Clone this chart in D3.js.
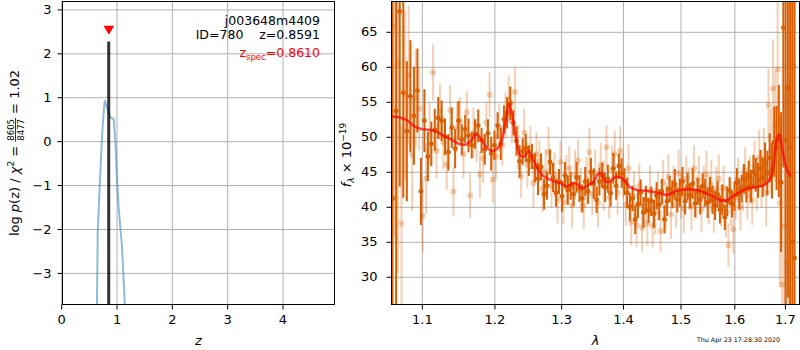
<!DOCTYPE html>
<html><head><meta charset="utf-8">
<script src="https://cdn.jsdelivr.net/npm/d3@7"></script>
<style>
body{margin:0;background:#fff}
svg{display:block;font-family:"DejaVu Sans",sans-serif}
</style>
</head><body><svg id="c" width="800" height="350"></svg>
<script>
// ---------- Left panel data: redshift PDF ----------
const zTicks = [0, 1, 2, 3, 4];
const logpTicks = [-3, -2, -1, 0, 1, 2, 3];
const zGrid = [0.60, 0.64, 0.66, 0.70, 0.74, 0.78, 0.79, 0.83, 0.89, 0.95, 0.98, 1.01, 1.04, 1.10, 1.15, 1.20];
const logpValues = [-8, -4.5, -2.1, -0.9, 0.16, 0.84, 0.93, 0.75, 0.54, 0.50, 0.0, -0.9, -1.55, -2.42, -3.72, -6];
const zBest = 0.8591, zBestPeak = 2.27;
const zSpec = 0.8610, zSpecMarker = 2.56;
const labelLines = ["j003648m4409", "ID=780    z=0.8591"];
const zSpecLabel = "=0.8610";

// ---------- Right panel data: spectrum ----------
const lamTicks = [1.1, 1.2, 1.3, 1.4, 1.5, 1.6, 1.7];
const fluxTicks = [30, 35, 40, 45, 50, 55, 60, 65];

const darkWave = [
1.0620,1.0666,1.0712,1.0758,1.0804,1.0850,1.0896,1.0942,1.0988,1.1034,
1.1080,1.1126,1.1172,1.1218,1.1264,1.1310,1.1356,1.1402,1.1448,1.1494,
1.1540,1.1586,1.1632,1.1678,1.1724,1.1770,1.1816,1.1862,1.1908,1.1954,
1.2000,1.2046,1.2092,1.2138,1.2184,1.2230,1.2276,1.2322,1.2368,1.2414,
1.2460,1.2506,1.2552,1.2598,1.2644,1.2690,1.2736,1.2782,1.2828,1.2874,
1.2920,1.2966,1.3012,1.3058,1.3104,1.3150,1.3196,1.3242,1.3288,1.3334,
1.3380,1.3426,1.3472,1.3518,1.3564,1.3610,1.3656,1.3702,1.3748,1.3794,
1.3840,1.3886,1.3932,1.3978,1.4024,1.4070,1.4116,1.4162,1.4208,1.4254,
1.4300,1.4346,1.4392,1.4438,1.4484,1.4530,1.4576,1.4622,1.4668,1.4714,
1.4760,1.4806,1.4852,1.4898,1.4944,1.4990,1.5036,1.5082,1.5128,1.5174,
1.5220,1.5266,1.5312,1.5358,1.5404,1.5450,1.5496,1.5542,1.5588,1.5634,
1.5680,1.5726,1.5772,1.5818,1.5864,1.5910,1.5956,1.6002,1.6048,1.6094,
1.6140,1.6186,1.6232,1.6278,1.6324,1.6370,1.6416,1.6462,1.6508,1.6554,
1.6600,1.6646,1.6692,1.6738,1.6784,1.6830,1.6876,1.6922,1.6968,1.7014,
1.7060,1.7106,1.7152,1.7198];
const darkFlux = [
41.2,53.7,67.9,56.3,50.8,55.8,53.0,56.6,42.2,52.3,
47.2,49.0,51.0,52.7,52.3,50.0,47.8,51.3,48.3,52.3,
49.6,51.1,50.2,48.8,50.4,51.6,49.5,48.2,50.5,47.6,
48.8,51.6,49.0,52.5,53.4,54.8,52.0,49.4,46.5,47.9,
48.4,46.6,47.2,45.6,44.0,45.7,41.8,43.0,46.4,44.2,
42.0,43.6,41.5,44.5,42.4,43.0,41.8,44.2,42.6,41.2,
43.6,42.2,45.0,43.3,41.0,43.6,44.5,42.8,44.0,41.9,
45.5,43.0,45.8,44.8,43.6,42.0,40.0,41.2,38.2,40.4,
42.0,39.2,41.0,39.5,40.8,39.0,41.6,40.3,42.2,38.2,
40.8,42.5,41.8,43.2,41.0,42.0,43.6,40.8,42.9,41.6,
43.3,40.5,42.2,41.0,43.0,42.0,40.6,42.4,41.0,40.2,
41.8,39.6,41.0,38.5,40.8,42.3,40.4,41.5,43.5,41.8,
42.6,44.0,42.8,44.4,43.0,45.0,44.6,43.8,45.5,44.2,
46.2,44.8,47.0,45.2,49.3,48.4,49.4,43.5,65.6,49.5,
57.0,48.5,35.0,32.7];
const darkErr = [
40,30,25,15,10,8,7,6,4.8,4.5,
3.5,3.2,3.0,3.0,2.9,2.6,2.6,2.9,2.8,2.8,
2.2,2.0,2.4,1.9,2.1,2.3,1.8,2.2,2.0,2.4,
2.1,1.9,2.3,2.0,2.2,2.4,1.8,2.1,2.3,1.9,
2.0,2.2,1.8,2.1,2.3,1.9,2.2,2.0,1.8,2.1,
2.0,1.8,2.2,1.9,2.1,2.0,1.7,2.2,1.9,2.0,
2.1,1.8,2.0,2.2,1.9,2.0,1.8,2.1,2.0,1.9,
2.2,2.0,1.8,2.1,1.9,2.2,2.0,1.8,2.1,2.0,
1.9,2.2,2.0,1.8,2.1,2.0,1.9,2.2,1.8,2.0,
2.1,1.9,2.0,2.2,1.8,2.0,2.1,1.9,2.0,1.8,
2.2,2.0,1.9,2.1,1.8,2.0,2.2,1.9,2.0,2.1,
1.9,2.0,2.2,1.8,2.1,2.0,1.9,2.1,2.0,2.2,
2.0,2.1,2.2,2.2,2.3,2.4,2.4,2.5,2.6,2.8,
3.0,3.2,3.5,4.0,5.0,6.0,8.0,10,20,25,
30,35,40,45];

const lightWave = [
1.0643,1.0689,1.0735,1.0781,1.0827,1.0873,1.0919,1.0965,1.1011,1.1057,
1.1103,1.1149,1.1195,1.1241,1.1287,1.1333,1.1379,1.1425,1.1471,1.1517,
1.1563,1.1609,1.1655,1.1701,1.1747,1.1793,1.1839,1.1885,1.1931,1.1977,
1.2023,1.2069,1.2115,1.2161,1.2207,1.2253,1.2299,1.2345,1.2391,1.2437,
1.2483,1.2529,1.2575,1.2621,1.2667,1.2713,1.2759,1.2805,1.2851,1.2897,
1.2943,1.2989,1.3035,1.3081,1.3127,1.3173,1.3219,1.3265,1.3311,1.3357,
1.3403,1.3449,1.3495,1.3541,1.3587,1.3633,1.3679,1.3725,1.3771,1.3817,
1.3863,1.3909,1.3955,1.4001,1.4047,1.4093,1.4139,1.4185,1.4231,1.4277,
1.4323,1.4369,1.4415,1.4461,1.4507,1.4553,1.4599,1.4645,1.4691,1.4737,
1.4783,1.4829,1.4875,1.4921,1.4967,1.5013,1.5059,1.5105,1.5151,1.5197,
1.5243,1.5289,1.5335,1.5381,1.5427,1.5473,1.5519,1.5565,1.5611,1.5657,
1.5703,1.5749,1.5795,1.5841,1.5887,1.5933,1.5979,1.6025,1.6071,1.6117,
1.6163,1.6209,1.6255,1.6301,1.6347,1.6393,1.6439,1.6485,1.6531,1.6577,
1.6623,1.6669,1.6715,1.6761,1.6807,1.6853,1.6899,1.6945,1.6991,1.7037,
1.7083,1.7129,1.7175];
const lightFlux = [
65.8,60.5,37.6,56.0,58.8,47.4,55.5,54.0,38.7,44.0,
50.5,59.2,48.0,53.6,49.2,46.0,53.8,42.2,51.3,52.2,
47.5,53.5,41.6,50.6,49.5,44.6,46.9,52.0,56.0,43.9,
47.2,51.3,48.8,53.0,55.4,52.2,56.4,48.5,44.3,50.6,
46.0,48.4,43.4,47.5,46.5,42.6,45.0,47.8,43.0,44.6,
41.0,46.4,40.7,43.8,45.5,40.2,44.6,46.6,42.4,40.2,
43.9,47.8,41.8,44.8,40.5,46.0,43.0,48.5,41.3,45.3,
47.5,42.0,48.0,44.5,40.3,45.5,37.8,41.5,37.4,43.0,
37.0,40.0,37.6,42.3,37.3,39.3,41.5,36.5,43.5,40.0,
44.3,38.9,42.8,40.3,44.8,41.5,39.8,44.0,42.6,40.0,
45.5,41.4,43.8,39.6,42.9,44.6,40.8,43.1,39.4,42.5,
44.0,40.2,42.7,39.3,34.5,40.5,36.8,41.3,43.8,40.0,
42.6,45.2,41.6,43.8,40.9,45.8,43.2,47.0,44.0,46.8,
42.0,54.5,48.0,56.9,51.5,59.6,40.5,28.9,37.2,32.0,
28.0,67.0,60.0];
const lightErr = [
30,30,14,12,10,8,7,6,5,5,
4.5,4.0,4.0,4.0,3.8,3.6,3.6,3.5,3.5,3.5,
3.4,3.0,3.2,3.6,3.1,3.3,3.5,3.0,3.2,3.4,
3.2,3.5,3.0,3.3,3.4,3.1,3.6,3.2,3.0,3.4,
3.3,3.1,3.5,3.2,3.0,3.4,3.3,3.6,3.1,3.2,
3.4,3.0,3.2,3.6,3.1,3.3,3.5,3.0,3.2,3.4,
3.2,3.5,3.0,3.3,3.4,3.1,3.6,3.2,3.0,3.4,
3.3,3.1,3.5,3.2,3.0,3.4,3.3,3.6,3.1,3.2,
3.4,3.0,3.2,3.6,3.1,3.3,3.5,3.0,3.2,3.4,
3.2,3.5,3.0,3.3,3.4,3.1,3.6,3.2,3.0,3.4,
3.3,3.1,3.5,3.2,3.0,3.4,3.3,3.6,3.1,3.2,
3.4,3.0,3.2,3.6,3.1,3.3,3.5,3.0,3.2,3.4,
3.2,3.3,3.4,3.4,3.5,3.6,3.8,4.0,4.2,4.5,
4.8,5.2,6,7,8,10,12,15,20,25,
30,35,40];

const modelWave = [1.060,1.070,1.080,1.090,1.100,1.110,1.120,1.130,1.140,1.150,1.160,1.168,1.174,1.180,1.188,1.196,1.204,1.210,1.216,1.221,1.226,1.232,1.238,1.244,1.250,1.256,1.262,1.270,1.280,1.290,1.300,1.310,1.318,1.326,1.334,1.344,1.352,1.358,1.364,1.370,1.378,1.386,1.396,1.404,1.412,1.425,1.440,1.460,1.475,1.490,1.510,1.530,1.545,1.560,1.575,1.585,1.595,1.610,1.625,1.640,1.655,1.665,1.672,1.678,1.684,1.689,1.694,1.700,1.706,1.712];
const modelFlux = [52.9,52.8,52.4,51.5,51.1,51.0,50.7,50.1,49.6,49.0,48.9,49.6,50.4,49.8,48.6,48.0,48.3,49.3,52.0,54.7,53.0,49.5,47.3,47.2,48.0,46.9,45.8,44.6,44.0,43.6,43.3,42.9,43.4,43.2,42.6,43.2,43.6,44.6,44.8,43.6,43.6,44.2,44.2,43.6,42.8,42.4,42.3,42.0,41.7,42.2,42.5,42.4,42.0,41.5,40.9,40.9,41.4,42.1,42.6,42.8,43.0,43.5,44.3,46.5,49.8,50.3,48.5,46.3,45.0,44.3];
const timestamp = "Thu Apr 23 17:28:30 2020";

// ---------- drawing ----------
const svg = d3.select("#c");
const FS = 13;
const gridCol = "#b0b0b0";
const darkCol = "#d95f02";

function panel(id, xs, ys, xTicks, yTicks, xFmt, yFmt, yPad) {
  const [x0, x1] = xs.range(), [y1, y0] = ys.range();
  const g = svg.append("g");
  g.append("clipPath").attr("id", id).append("rect")
    .attr("x", x0).attr("y", y0).attr("width", x1 - x0).attr("height", y1 - y0);
  g.append("g").attr("transform", `translate(0,${y1})`)
    .call(d3.axisBottom(xs).tickValues(xTicks).tickSize(-(y1 - y0)).tickFormat(""))
    .call(a => { a.select(".domain").remove(); a.selectAll("line").attr("stroke", gridCol).attr("stroke-width", 1); });
  g.append("g").attr("transform", `translate(${x0},0)`)
    .call(d3.axisLeft(ys).tickValues(yTicks).tickSize(-(x1 - x0)).tickFormat(""))
    .call(a => { a.select(".domain").remove(); a.selectAll("line").attr("stroke", gridCol).attr("stroke-width", 1); });
  const plot = g.append("g").attr("clip-path", `url(#${id})`);
  g.append("g").attr("transform", `translate(0,${y1})`)
    .call(d3.axisBottom(xs).tickValues(xTicks).tickFormat(xFmt).tickSize(5).tickPadding(5))
    .call(a => { a.select(".domain").remove(); a.selectAll("text").attr("font-size", FS).attr("font-family", "DejaVu Sans").attr("fill", "#000"); a.selectAll("line").attr("stroke", "#000"); });
  g.append("g").attr("transform", `translate(${x0},0)`)
    .call(d3.axisLeft(ys).tickValues(yTicks).tickFormat(yFmt).tickSize(5).tickPadding(yPad))
    .call(a => { a.select(".domain").remove(); a.selectAll("text").attr("font-size", FS).attr("font-family", "DejaVu Sans").attr("fill", "#000"); a.selectAll("line").attr("stroke", "#000"); });
  g.append("rect").attr("x", x0).attr("y", y0).attr("width", x1 - x0).attr("height", y1 - y0)
    .attr("fill", "none").attr("stroke", "#000").attr("stroke-width", 1);
  return {g, plot};
}

// Left panel
const xL = d3.scaleLinear().domain([0.0235, 4.94]).range([62.5, 334.5]);
const yL = d3.scaleLinear().domain([-3.72, 3.18]).range([304.5, 1.5]);
const P1 = panel("clipL", xL, yL, zTicks, logpTicks, d3.format("d"), d3.format("d"), 6);

P1.plot.append("path")
  .datum(d3.zip(zGrid, logpValues))
  .attr("d", d3.line().x(d => xL(d[0])).y(d => yL(d[1])))
  .attr("fill", "none").attr("stroke", "#1f77b4").attr("stroke-opacity", 0.5).attr("stroke-width", 2);
P1.plot.append("line")
  .attr("x1", xL(zBest)).attr("x2", xL(zBest))
  .attr("y1", yL(-3.72)).attr("y2", yL(zBestPeak))
  .attr("stroke", "#000").attr("stroke-opacity", 0.8).attr("stroke-width", 3);
P1.plot.append("path")
  .attr("d", d3.symbol(d3.symbolTriangle, 48)())
  .attr("transform", `translate(${xL(zSpec)},${yL(zSpecMarker)}) rotate(180)`)
  .attr("fill", "red");

const ann = svg.append("g").attr("font-size", 12.5).attr("text-anchor", "end");
ann.append("text").attr("x", 320).attr("y", 25).text(labelLines[0]);
ann.append("text").attr("x", 320).attr("y", 39).style("white-space", "pre").text(labelLines[1]);
const zs = ann.append("text").attr("x", 320).attr("y", 57).attr("fill", "red");
zs.append("tspan").text("z");
zs.append("tspan").attr("font-size", 8.5).attr("dy", 3).text("spec");
zs.append("tspan").attr("dy", -3).text(zSpecLabel);

svg.append("text").attr("x", (62.5 + 334.5) / 2).attr("y", 345).attr("text-anchor", "middle")
  .attr("font-size", FS).attr("font-style", "italic").text("z");

// y label left (with fraction)
const yl = svg.append("g").attr("transform", "translate(19,153) rotate(-90)").attr("font-size", FS);
const inner = yl.append("g");
const t1 = inner.append("text").attr("x", 0).attr("y", 0).style("white-space", "pre");
t1.append("tspan").text("log ");
t1.append("tspan").attr("font-style", "italic").text("p");
t1.append("tspan").text("(z) / ");
t1.append("tspan").attr("font-style", "italic").text("χ");
t1.append("tspan").attr("font-size", 9).attr("dy", -5).text("2");
t1.append("tspan").attr("dy", 5).text(" = ");
const w1 = t1.node().getComputedTextLength();
const num = inner.append("text").attr("font-size", 8.5).attr("y", -5).attr("text-anchor", "middle").text("8605");
const den = inner.append("text").attr("font-size", 8.5).attr("y", 5).attr("text-anchor", "middle").text("8477");
const fw = Math.max(num.node().getComputedTextLength(), den.node().getComputedTextLength()) + 2;
num.attr("x", w1 + fw / 2); den.attr("x", w1 + fw / 2);
inner.append("line").attr("x1", w1).attr("x2", w1 + fw).attr("y1", -3.5).attr("y2", -3.5).attr("stroke", "#000").attr("stroke-width", 0.8);
const t2 = inner.append("text").attr("x", w1 + fw).attr("y", 0).style("white-space", "pre").text(" = 1.02");
const total = w1 + fw + t2.node().getComputedTextLength();
inner.attr("transform", `translate(${-total / 2},0)`);

// Right panel
const xR = d3.scaleLog().domain([1.0607, 1.730]).range([391.5, 799.5]);
const yR = d3.scaleLinear().domain([26.04, 69.33]).range([304.5, 1.5]);
const P2 = panel("clipR", xR, yR, lamTicks, fluxTicks, d3.format(".1f"), d3.format("d"), 9);

function errSeries(wave, flux, err, color, opacity, r) {
  const data = d3.zip(wave, flux, err);
  const grp = P2.plot.append("g");
  grp.selectAll("line").data(data).join("line")
    .attr("x1", d => xR(d[0])).attr("x2", d => xR(d[0]))
    .attr("y1", d => yR(d[1] - d[2])).attr("y2", d => yR(d[1] + d[2]))
    .attr("stroke", color).attr("stroke-opacity", opacity).attr("stroke-width", 2);
  grp.selectAll("circle").data(data).join("circle")
    .attr("cx", d => xR(d[0])).attr("cy", d => yR(d[1])).attr("r", r)
    .attr("fill", color).attr("fill-opacity", opacity);
}
errSeries(lightWave, lightFlux, lightErr, darkCol, 0.3, 3);
errSeries(darkWave, darkFlux, darkErr, darkCol, 1, 2.4);

P2.plot.append("path")
  .datum(d3.zip(modelWave, modelFlux))
  .attr("d", d3.line().curve(d3.curveCatmullRom).x(d => xR(d[0])).y(d => yR(d[1])))
  .attr("fill", "none").attr("stroke", "red").attr("stroke-opacity", 0.7).attr("stroke-width", 2.5);

svg.append("text").attr("x", (391.5 + 799.5) / 2).attr("y", 345).attr("text-anchor", "middle")
  .attr("font-size", FS).attr("font-style", "italic").text("λ");

const yr = svg.append("text").attr("transform", "translate(351,155) rotate(-90)")
  .attr("text-anchor", "middle").attr("font-size", FS);
yr.append("tspan").attr("font-style", "italic").text("f");
yr.append("tspan").attr("font-style", "italic").attr("font-size", 9).attr("dy", 3).text("λ");
yr.append("tspan").attr("dy", -3).text(" × 10");
yr.append("tspan").attr("font-size", 9).attr("dy", -5).text("−19");

svg.append("text").attr("x", 697).attr("y", 342).attr("font-size", 6.3).attr("fill", "#000").text(timestamp);
</script>
</body></html>
